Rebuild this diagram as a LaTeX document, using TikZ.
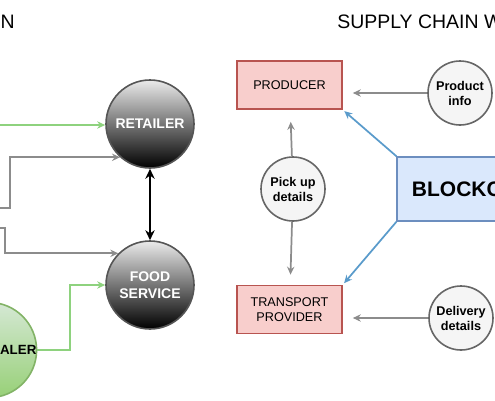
\documentclass[tikz,border=0pt]{standalone}
\usepackage{fontspec}
\setmainfont{Liberation Sans}
\usetikzlibrary{arrows.meta,calc}
\definecolor{ballline}{HTML}{555555}
\definecolor{greenline}{HTML}{82B366}
\definecolor{greenarrow}{HTML}{8ED27E}
\definecolor{greentop}{HTML}{D5E8D4}
\definecolor{greenbot}{HTML}{97D077}
\definecolor{redfill}{HTML}{F8CECC}
\definecolor{redline}{HTML}{B85450}
\definecolor{bluefill}{HTML}{DAE8FC}
\definecolor{blueline}{HTML}{6C8EBF}
\definecolor{bluearrow}{HTML}{5A9BCB}
\definecolor{infofill}{HTML}{F5F5F5}
\definecolor{infoline}{HTML}{666666}
\definecolor{grayarrow}{HTML}{8C8C8C}

\tikzset{
  darkball/.style={circle,draw=ballline,line width=1.2pt,minimum size=66pt,inner sep=0pt,
    top color=black!8,bottom color=black,text=white,align=center,
    font=\bfseries\fontsize{10.5}{12.75}\selectfont},
  greenball/.style={circle,draw=greenline,line width=1.2pt,minimum size=66pt,inner sep=0pt,
    top color=greentop,bottom color=greenbot,align=center,
    font=\bfseries\fontsize{10}{12}\selectfont},
  infoball/.style={circle,draw=infoline,line width=1.2pt,fill=infofill,minimum size=48pt,
    inner sep=0pt,align=center,font=\bfseries\fontsize{9.5}{11.25}\selectfont},
  redbox/.style={rectangle,draw=redline,line width=1.2pt,fill=redfill,minimum width=78.75pt,
    minimum height=36pt,align=center,font=\fontsize{9.5}{11.8}\selectfont},
  grayline/.style={draw=grayarrow,line width=1.3pt},
  greenpath/.style={draw=greenarrow,line width=1.3pt},
  bluepath/.style={draw=bluearrow,line width=1.3pt},
}

\begin{document}
\begin{tikzpicture}[x=0.75pt,y=-0.75pt,>={Stealth[length=6pt,width=5.5pt]}]
\useasboundingbox (0,0) rectangle (495,400);
\clip (0,0) rectangle (495,400);
% titles
\node[anchor=base east,inner sep=0pt,font=\fontsize{14.6}{16}\selectfont] (titleL) at (15,28) {TRADITIONAL SUPPLY CHAIN};
\node[anchor=base west,inner sep=0pt,font=\fontsize{14.6}{16}\selectfont] (titleR) at (337,28) {SUPPLY CHAIN WITH BLOCKCHAIN};
% left side
\node[darkball] (retailer) at (150,124) {RETAILER};
\node[darkball] (foodsvc) at (150,285) {FOOD\\SERVICE};
\node[greenball] (wholesaler) at (-11,350) {WHOLESALER};
\coordinate (inG) at (-10,125);
\coordinate (inA) at (-10,208);
\coordinate (inB) at (-10,228);
\draw[->,greenpath] (inG) -- (inG -| retailer.west);
\draw[->,grayline] (inA) -- (10,208) |- (retailer.228);
\draw[->,grayline] (inB) -- (5,228) |- (foodsvc.135);
\draw[->,greenpath] (wholesaler.east) -- (70,350) |- (foodsvc.west);
\draw[{Stealth[length=7.5pt,width=7pt]}-{Stealth[length=7.5pt,width=7pt]},line width=1.5pt] (retailer) -- (foodsvc);
% right side
\node[redbox] (producer) at (289.5,85) {PRODUCER};
\node[redbox] (transport) at (289.5,309.5) {TRANSPORT\\PROVIDER};
\node[infoball] (pickup) at (293,189) {Pick up\\details};
\node[infoball] (prodinfo) at (460,93) {Product\\info};
\node[infoball] (delivery) at (461,318) {Delivery\\details};
\node[rectangle,draw=blueline,line width=1.2pt,fill=bluefill,minimum width=128pt,minimum height=48pt,
  font=\bfseries\fontsize{15.75}{18}\selectfont] (blockchain) at (482.5,189) {BLOCKCHAIN};
% arrows into the boxes
\draw[->,grayline,shorten >=9pt] (pickup) -- (producer);
\draw[->,grayline,shorten >=7.5pt] (pickup) -- (transport);
\draw[->,grayline,shorten >=7.5pt] (prodinfo.west) -- (prodinfo.west -| producer.east);
\draw[->,grayline,shorten >=7.5pt] (delivery.west) -- (delivery.west -| transport.east);
\draw[->,bluepath,shorten >=1.5pt] (blockchain.north west) -- (producer.south east);
\draw[->,bluepath,shorten >=1.5pt] (blockchain.south west) -- (transport.north east);
\end{tikzpicture}
\end{document}
